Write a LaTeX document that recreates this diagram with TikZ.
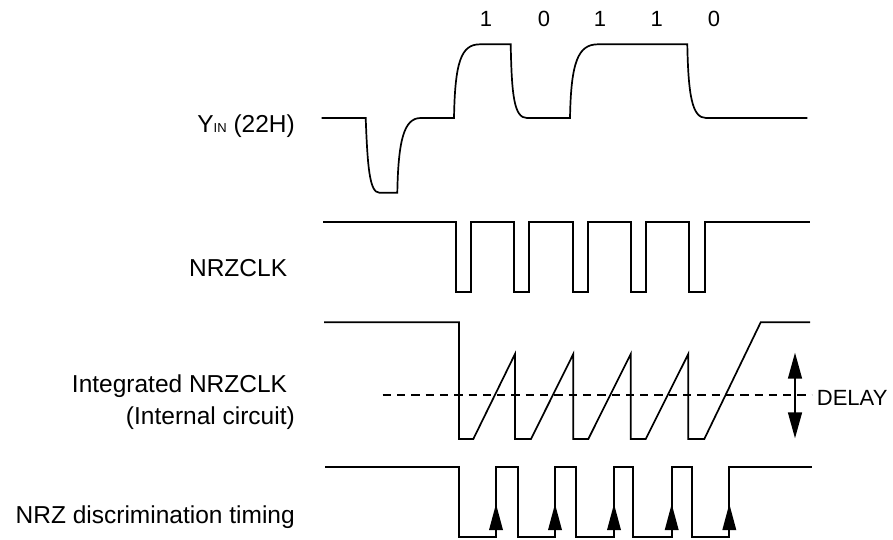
\documentclass[tikz,border=0pt]{standalone}
\usepackage{fontspec}
\setmainfont{Liberation Sans}
\usetikzlibrary{arrows.meta}
\tikzset{
  wave/.style={line width=1.7pt, line join=miter},
  lbl/.style={inner sep=0pt, anchor=base east, font=\fontsize{24.5}{29}\selectfont},
  bit/.style={inner sep=0pt, anchor=base, font=\fontsize{22}{26}\selectfont},
  dashline/.style={line width=1.5pt, dash pattern=on 8.3pt off 6pt},
  delayarrow/.style={line width=1.5pt, {Triangle[length=26pt,width=14pt]}-{Triangle[length=26pt,width=14pt]}}
}
\begin{document}
\begin{tikzpicture}[x=1pt,y=-1pt]
\useasboundingbox (0,0) rectangle (893,539);
% labels
\node[lbl] (yin) at (295,132.3) {Y{\fontsize{13}{13}\selectfont IN} (22H)};
\node[lbl] (clk) at (287.3,276.7) {NRZCLK};
\node[lbl] (int1) at (287.3,392.7) {Integrated NRZCLK};
\node[lbl] (int2) at (295,424) {(Internal circuit)};
\node[lbl] (disc) at (295,523.3) {NRZ discrimination timing};
% bits
\node[bit] (b1) at (486,26.7) {1};
\node[bit] (b2) at (544,26.7) {0};
\node[bit] (b3) at (600,26.7) {1};
\node[bit] (b4) at (656.7,26.7) {1};
\node[bit] (b5) at (714,26.7) {0};
% Y_IN waveform
\draw[wave] (321.7,118) -- (365.7,118)
  .. controls (367.5,166) and (369.5,192.7) .. (379.3,192.7)
  -- (397.3,192.7)
  .. controls (398.3,140) and (404,118) .. (420.7,118)
  -- (454,118)
  .. controls (455,62) and (461,44.3) .. (480,44.3)
  -- (510.7,44.3)
  .. controls (511.7,95) and (514,118) .. (527,118)
  -- (570,118)
  .. controls (571,62) and (578,44.3) .. (598,44.3)
  -- (687.3,44.3)
  .. controls (688.3,95) and (692,118) .. (706,118)
  -- (807.3,118);
% NRZCLK
\draw[wave] (323.3,221.7) -- (456,221.7) -- (456,291.7) -- (470.7,291.7) -- (470.7,221.7)
  -- (514.3,221.7) -- (514.3,291.7) -- (529,291.7) -- (529,221.7)
  -- (572.7,221.7) -- (572.7,291.7) -- (588.3,291.7) -- (588.3,221.7)
  -- (631,221.7) -- (631,291.7) -- (645.7,291.7) -- (645.7,221.7)
  -- (689.3,221.7) -- (689.3,291.7) -- (704.7,291.7) -- (704.7,221.7)
  -- (810,221.7);
% Integrated NRZCLK
\draw[dashline] (382.7,395) -- (811.7,395);
\draw[wave] (324,322.3) -- (459,322.3) -- (459,439) -- (473.3,439)
  -- (515,354) -- (515,439) -- (531,439)
  -- (573.3,354) -- (573.3,439) -- (588.3,439)
  -- (630.7,354) -- (630.7,439) -- (645.7,439)
  -- (688.3,354) -- (688.3,439) -- (704.3,439)
  -- (760.7,322.3) -- (810,322.3);
\coordinate (dtop) at (795,352.7);
\coordinate (dbot) at (795,438.3);
\draw[delayarrow] (dtop) -- (dbot);
\node[inner sep=0pt, anchor=base west, font=\fontsize{22}{26}\selectfont] (delay) at (816.7,405) {DELAY};
% NRZ discrimination timing
\draw[wave] (325,466.7) -- (459.3,466.7) -- (459.3,537.3) -- (496,537.3) -- (496,466.7)
  -- (518.3,466.7) -- (518.3,537.3) -- (555,537.3) -- (555,466.7)
  -- (576,466.7) -- (576,537.3) -- (614,537.3) -- (614,466.7)
  -- (633.3,466.7) -- (633.3,537.3) -- (671.7,537.3) -- (671.7,466.7)
  -- (691.7,466.7) -- (691.7,537.3) -- (729.3,537.3) -- (729.3,466.7)
  -- (811.7,466.7);
\foreach \x in {496,555,614,671.7,729.3}{
  \fill (\x-7,530) -- (\x,504) -- (\x+7,530) -- cycle;
}
\end{tikzpicture}
\end{document}
